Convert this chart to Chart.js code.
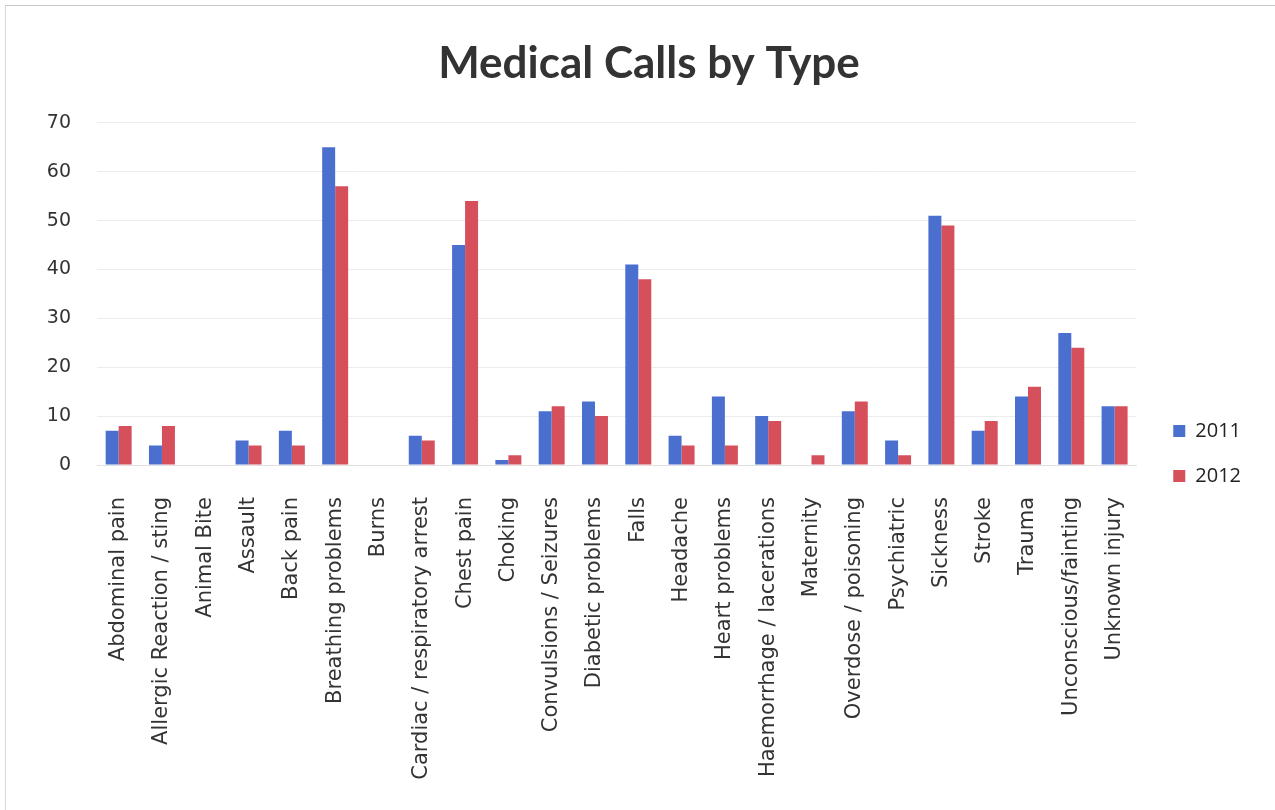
<!DOCTYPE html>
<html>
<head>
<meta charset="utf-8">
<script src="https://cdn.jsdelivr.net/npm/chart.js@4.4.1/dist/chart.umd.min.js"></script>
<style>
  html, body { margin: 0; padding: 0; background: #fff; }
  #wrap {
    position: absolute; left: 5px; top: 5px; width: 1270px; height: 805px;
    border-top: 1px solid #c8c8c8; border-left: 1px solid #d8d8d8;
  }
</style>
</head>
<body>
<div id="wrap"><canvas id="callsChart"></canvas></div>
<script>
const categories = [
  'Abdominal pain', 'Allergic Reaction / sting', 'Animal Bite', 'Assault', 'Back pain',
  'Breathing problems', 'Burns', 'Cardiac / respiratory arrest', 'Chest pain', 'Choking',
  'Convulsions / Seizures', 'Diabetic problems', 'Falls', 'Headache', 'Heart problems',
  'Haemorrhage / lacerations', 'Maternity', 'Overdose / poisoning', 'Psychiatric', 'Sickness',
  'Stroke', 'Trauma', 'Unconscious/fainting', 'Unknown injury'
];
const calls2011 = [7, 4, 0, 5, 7, 65, 0, 6, 45, 1, 11, 13, 41, 6, 14, 10, 0, 11, 5, 51, 7, 14, 27, 12];
const calls2012 = [8, 8, 0, 4, 4, 57, 0, 5, 54, 2, 12, 10, 38, 4, 4, 9, 2, 13, 2, 49, 9, 16, 24, 12];
const yTicks = [0, 10, 20, 30, 40, 50, 60, 70];

const ctx = document.getElementById('callsChart').getContext('2d');
new Chart(ctx, {
  type: 'bar',
  data: {
    labels: categories,
    datasets: [
      { label: '2011', data: calls2011, backgroundColor: '#4a6fcf' },
      { label: '2012', data: calls2012, backgroundColor: '#d6505c' }
    ]
  },
  options: {
    responsive: true,
    maintainAspectRatio: false,
    animation: false,
    layout: { padding: { top: 0, left: 41, right: 25, bottom: 0 } },
    datasets: { bar: { categoryPercentage: 0.6, barPercentage: 1.0 } },
    plugins: {
      title: {
        display: true,
        text: 'Medical Calls by Type',
        color: '#333',
        font: { family: 'Lato', size: 44, weight: 'bold' },
        padding: { top: 31, bottom: 33 }
      },
      legend: {
        position: 'right',
        title: { display: true, text: ' ', font: { size: 20 }, padding: { top: 66, bottom: 0 } },
        labels: {
          color: '#222',
          boxWidth: 12,
          boxHeight: 12,
          padding: 25,
          font: { family: 'Open Sans', size: 20 }
        }
      },
      tooltip: { enabled: false }
    },
    scales: {
      x: {
        grid: { display: false },
        border: { color: '#e0e0e0' },
        afterFit: axis => { axis.height = 346; },
        ticks: {
          color: '#333',
          maxRotation: 90,
          minRotation: 90,
          autoSkip: false,
          padding: 24,
          font: { family: 'DejaVu Sans', size: 21 }
        }
      },
      y: {
        min: 0,
        max: 70,
        afterBuildTicks: axis => { axis.ticks = yTicks.map(v => ({ value: v })); },
        afterFit: axis => { axis.width = 50; },
        grid: { color: '#ececec', drawTicks: false },
        border: { display: false },
        ticks: {
          color: '#333',
          padding: 26,
          font: { family: 'DejaVu Sans', size: 19 }
        }
      },
      yRight: {
        position: 'right',
        display: true,
        grid: { display: false },
        border: { display: false },
        ticks: { display: false },
        afterFit: axis => { axis.width = 12; }
      }
    }
  }
});
</script>
</body>
</html>
